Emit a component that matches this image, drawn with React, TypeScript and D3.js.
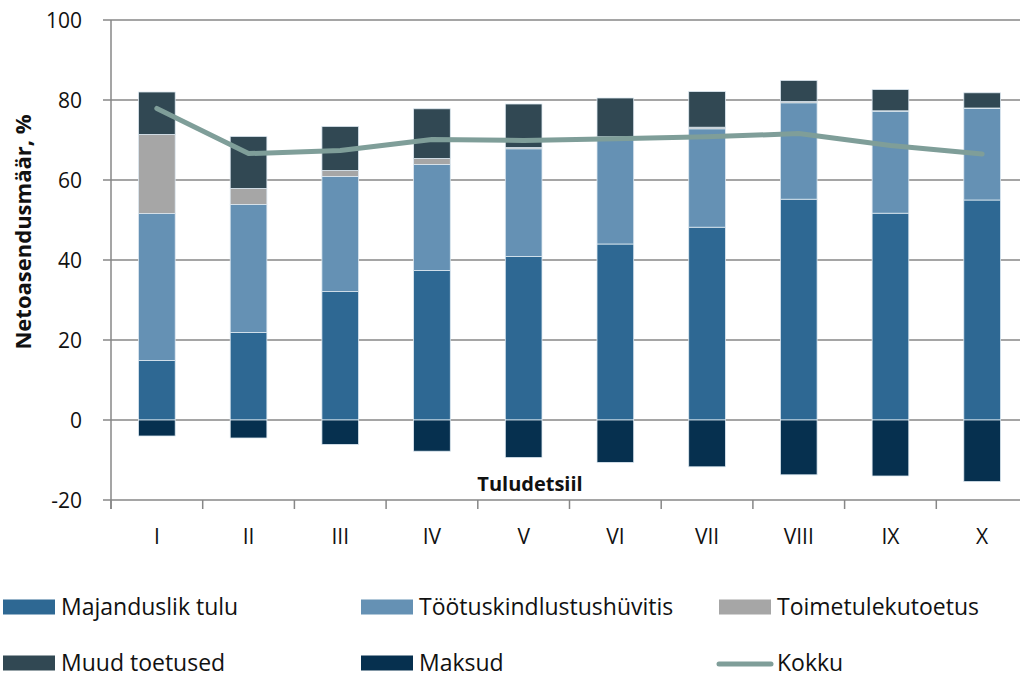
import * as d3 from "d3";
import React, { useEffect, useRef } from "react";

// andmed
const detsiilid = ["I", "II", "III", "IV", "V", "VI", "VII", "VIII", "IX", "X"];
const majanduslikTulu = [14.9, 21.9, 32.1, 37.4, 40.9, 44.0, 48.2, 55.2, 51.7, 55.0];
const tootuskindlustus = [36.7, 32.0, 28.8, 26.5, 26.9, 26.6, 24.6, 24.1, 25.5, 22.9];
const toimetulekutoetus = [19.8, 4.0, 1.5, 1.5, 0.3, 0.2, 0.4, 0.3, 0.1, 0.1];
const muudToetused = [10.6, 13.0, 11.0, 12.4, 10.9, 9.7, 8.9, 5.3, 5.3, 3.8];
const maksud = [-4.0, -4.5, -6.1, -7.8, -9.4, -10.6, -11.7, -13.7, -14.0, -15.4];
const kokku = [77.9, 66.6, 67.4, 70.1, 69.9, 70.3, 70.8, 71.6, 68.6, 66.5];
const yTicks = [-20, 0, 20, 40, 60, 80, 100];

const seeriad = [
  { name: "Majanduslik tulu", values: majanduslikTulu, color: "#2e6893" },
  { name: "Töötuskindlustushüvitis", values: tootuskindlustus, color: "#6591b4" },
  { name: "Toimetulekutoetus", values: toimetulekutoetus, color: "#a6a6a6" },
  { name: "Muud toetused", values: muudToetused, color: "#314853" },
  { name: "Maksud", values: maksud, color: "#06304f" },
];
const kokkuColor = "#7f9e99";

export default function App() {
  const ref = useRef<SVGSVGElement>(null);

  useEffect(() => {
    const width = 1020;
    const height = 675;
    const margin = { top: 20, left: 111, right: -8, bottom: 175 };
    const font = "'Open Sans', sans-serif";

    const svg = d3.select(ref.current);
    svg.selectAll("*").remove();

    const x = d3
      .scaleBand()
      .domain(detsiilid)
      .range([margin.left, width - margin.right])
      .paddingInner(0.6)
      .paddingOuter(0.3);
    const band = d3.scaleBand().domain(detsiilid).range([margin.left, width - margin.right]);
    const y = d3.scaleLinear().domain([-20, 100]).range([height - margin.bottom, margin.top]);

    // ruudustik
    svg
      .append("g")
      .selectAll("line")
      .data(yTicks)
      .join("line")
      .attr("x1", margin.left - 8)
      .attr("x2", width)
      .attr("y1", (d) => y(d))
      .attr("y2", (d) => y(d))
      .attr("stroke", "#878787")
      .attr("stroke-width", 1.5);

    // y-telg
    svg
      .append("line")
      .attr("x1", margin.left)
      .attr("x2", margin.left)
      .attr("y1", y(100))
      .attr("y2", y(-20) + 9)
      .attr("stroke", "#878787")
      .attr("stroke-width", 1.5);

    svg
      .append("g")
      .selectAll("text")
      .data(yTicks)
      .join("text")
      .attr("x", margin.left - 29)
      .attr("y", (d) => y(d))
      .attr("dy", "0.36em")
      .attr("text-anchor", "end")
      .attr("font-family", font)
      .attr("font-size", 21)
      .attr("fill", "#111")
      .text((d) => d);

    // x-telje jaotised
    svg
      .append("g")
      .selectAll("line")
      .data(detsiilid)
      .join("line")
      .attr("x1", (d) => band(d)!)
      .attr("x2", (d) => band(d)!)
      .attr("y1", y(-20))
      .attr("y2", y(-20) + 9)
      .attr("stroke", "#878787")
      .attr("stroke-width", 1.5);

    svg
      .append("g")
      .selectAll("text")
      .data(detsiilid)
      .join("text")
      .attr("x", (d) => band(d)! + band.bandwidth() / 2)
      .attr("y", 544)
      .attr("text-anchor", "middle")
      .attr("font-family", font)
      .attr("font-size", 21)
      .attr("fill", "#111")
      .text((d) => d);

    // virnastatud tulbad
    const g = svg.append("g");
    detsiilid.forEach((d, i) => {
      let base = 0;
      seeriad.forEach((s) => {
        const v = s.values[i];
        let y0: number, y1: number;
        if (v < 0) {
          y0 = 0;
          y1 = v;
        } else {
          y0 = base;
          y1 = base + v;
          base = y1;
        }
        g.append("rect")
          .attr("x", x(d)!)
          .attr("width", x.bandwidth())
          .attr("y", y(Math.max(y0, y1)))
          .attr("height", Math.abs(y(y0) - y(y1)))
          .attr("fill", s.color)
          .attr("stroke", "#dde8f0")
          .attr("stroke-width", 0.8);
      });
    });

    // kokku joon
    const line = d3
      .line<number>()
      .x((_, i) => band(detsiilid[i])! + band.bandwidth() / 2)
      .y((v) => y(v));
    svg
      .append("path")
      .attr("d", line(kokku))
      .attr("fill", "none")
      .attr("stroke", kokkuColor)
      .attr("stroke-width", 5)
      .attr("stroke-linecap", "round")
      .attr("stroke-linejoin", "round");

    // telje pealkirjad
    svg
      .append("text")
      .attr("transform", `translate(31,232) rotate(-90)`)
      .attr("text-anchor", "middle")
      .attr("font-family", font)
      .attr("font-weight", "bold")
      .attr("font-size", 22)
      .attr("fill", "#111")
      .text("Netoasendusmäär, %");

    svg
      .append("text")
      .attr("x", 530)
      .attr("y", 491)
      .attr("text-anchor", "middle")
      .attr("font-family", font)
      .attr("font-weight", "bold")
      .attr("font-size", 20)
      .attr("fill", "#111")
      .text("Tuludetsiil");

    // legend
    const legendItems = [
      { name: seeriad[0].name, color: seeriad[0].color, type: "rect" },
      { name: seeriad[1].name, color: seeriad[1].color, type: "rect" },
      { name: seeriad[2].name, color: seeriad[2].color, type: "rect" },
      { name: seeriad[3].name, color: seeriad[3].color, type: "rect" },
      { name: seeriad[4].name, color: seeriad[4].color, type: "rect" },
      { name: "Kokku", color: kokkuColor, type: "line" },
    ];
    const colX = [3, 361, 719];
    const rowY = [607, 663];
    const lg = svg.append("g");
    legendItems.forEach((it, i) => {
      const lx = colX[i % 3];
      const ly = rowY[Math.floor(i / 3)];
      if (it.type === "rect") {
        lg.append("rect")
          .attr("x", lx)
          .attr("y", ly - 7.5)
          .attr("width", 52)
          .attr("height", 15)
          .attr("fill", it.color);
      } else {
        lg.append("line")
          .attr("x1", lx)
          .attr("x2", lx + 52)
          .attr("y1", ly + 1)
          .attr("y2", ly + 1)
          .attr("stroke", it.color)
          .attr("stroke-width", 5)
          .attr("stroke-linecap", "round");
      }
      lg.append("text")
        .attr("x", lx + 58)
        .attr("y", ly)
        .attr("dy", "0.36em")
        .attr("font-family", font)
        .attr("font-size", 23)
        .attr("fill", "#111")
        .text(it.name);
    });
  }, []);

  return (
    <svg
      ref={ref}
      width={1020}
      height={675}
      style={{ position: "absolute", left: 0, top: 0, background: "#fff" }}
    />
  );
}
